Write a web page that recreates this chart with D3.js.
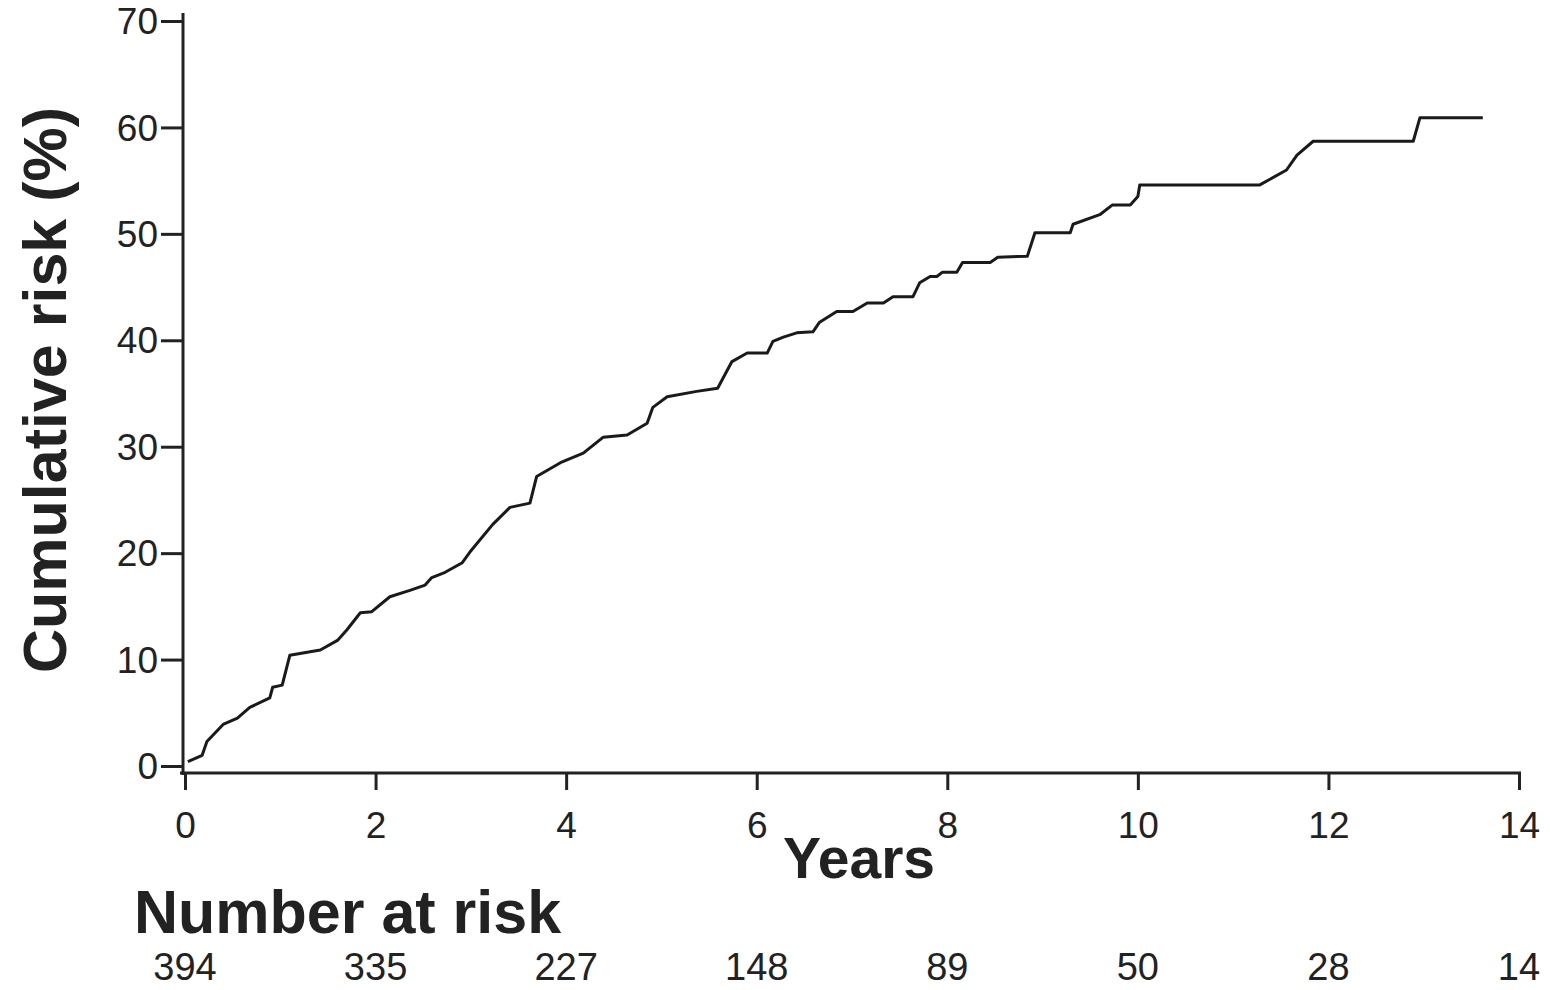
<!DOCTYPE html>
<html>
<head>
<meta charset="utf-8">
<script src="https://cdn.jsdelivr.net/npm/d3@7"></script>
<style>
  body { margin: 0; background: #fff; }
  text { font-family: "Liberation Sans", Arial, sans-serif; fill: #222; }
</style>
</head>
<body>
<script>
var width = 1550,
    height = 990;

// cumulative risk curve
var years = [0.03, 0.18, 0.23, 0.40, 0.55, 0.68, 0.89, 0.92, 1.02, 1.10, 1.42, 1.60, 1.70, 1.84, 1.96,
  2.15, 2.36, 2.52, 2.59, 2.73, 2.91, 2.99, 3.23, 3.41, 3.62, 3.69, 3.94, 4.18, 4.39, 4.64, 4.85,
  4.91, 5.06, 5.37, 5.59, 5.74, 5.90, 6.11, 6.17, 6.28, 6.42, 6.59, 6.66, 6.84, 7.01, 7.16, 7.33,
  7.43, 7.64, 7.71, 7.82, 7.89, 7.95, 8.10, 8.16, 8.45, 8.53, 8.84, 8.92, 9.29, 9.32, 9.60, 9.73,
  9.92, 10.00, 10.02, 11.28, 11.56, 11.67, 11.84, 12.89, 12.96, 13.62];
var risk = [0.4, 1.0, 2.3, 3.9, 4.5, 5.5, 6.4, 7.4, 7.6, 10.4, 10.9, 11.8, 12.8, 14.4, 14.5,
  15.9, 16.5, 17.0, 17.7, 18.2, 19.1, 20.1, 22.7, 24.3, 24.7, 27.2, 28.5, 29.4, 30.9, 31.1, 32.2,
  33.7, 34.7, 35.2, 35.5, 38.0, 38.8, 38.8, 39.9, 40.3, 40.7, 40.8, 41.7, 42.7, 42.7, 43.5, 43.5,
  44.1, 44.1, 45.4, 46.0, 46.0, 46.4, 46.4, 47.3, 47.3, 47.8, 47.9, 50.1, 50.1, 50.9, 51.8, 52.7,
  52.7, 53.5, 54.6, 54.6, 56.0, 57.4, 58.7, 58.7, 60.9, 60.9];

var xTicks = [0, 2, 4, 6, 8, 10, 12, 14];
var yTicks = [0, 10, 20, 30, 40, 50, 60, 70];
var atRisk = [394, 335, 227, 148, 89, 50, 28, 14];

var svg = d3.select('body')
  .append('svg')
    .attr('width', width)
    .attr('height', height)

var x = d3.scaleLinear().domain([0, 14]).range([185, 1519]);
var y = d3.scaleLinear().domain([0, 70]).range([766, 21]);

// axes
var xAxis = svg.append('g')
    .attr('transform', 'translate(0,773)')
    .call(d3.axisBottom(x).tickValues(xTicks).tickSize(17).tickSizeOuter(0).tickPadding(22));
xAxis.select('.domain').attr('d', 'M180,0H1521');

var yAxis = svg.append('g')
    .attr('transform', 'translate(183,0)')
    .call(d3.axisLeft(y).tickValues(yTicks).tickSize(22).tickSizeOuter(0).tickPadding(3));
yAxis.select('.domain').attr('d', 'M0,13V775');

svg.selectAll('.domain, .tick line')
    .attr('stroke', '#222')
    .attr('stroke-width', 3);

svg.selectAll('.tick text')
    .style('font-size', '37px')
    .attr('fill', '#222');
yAxis.selectAll('.tick text').attr('dy', '0.34em');

// curve
var pts = years.map(function(d, i){ return [d, risk[i]]; });
svg.append('path')
    .datum(pts)
    .attr('fill', 'none')
    .attr('stroke', '#1a1a1a')
    .attr('stroke-width', 3)
    .attr('stroke-linejoin', 'round')
    .attr('d', d3.line()
      .x(function(d){ return x(d[0]); })
      .y(function(d){ return y(d[1]); }));

// labels
svg.append('text')
    .attr('transform', 'translate(66,390) rotate(-90)')
    .attr('text-anchor', 'middle')
    .style('font-size', '61px')
    .style('font-weight', 'bold')
    .text('Cumulative risk (%)');

svg.append('text')
    .attr('x', 859)
    .attr('y', 878)
    .attr('text-anchor', 'middle')
    .style('font-size', '57px')
    .style('font-weight', 'bold')
    .text('Years');

svg.append('text')
    .attr('x', 134)
    .attr('y', 933)
    .style('font-size', '61px')
    .style('font-weight', 'bold')
    .text('Number at risk');

svg.selectAll('.risk')
    .data(atRisk).enter()
  .append('text')
    .attr('class', 'risk')
    .attr('x', function(d, i){ return Math.min(x(xTicks[i]), 1525); })
    .attr('y', 980)
    .attr('text-anchor', 'middle')
    .style('font-size', '38px')
    .text(function(d){ return d; });
</script>
</body>
</html>
